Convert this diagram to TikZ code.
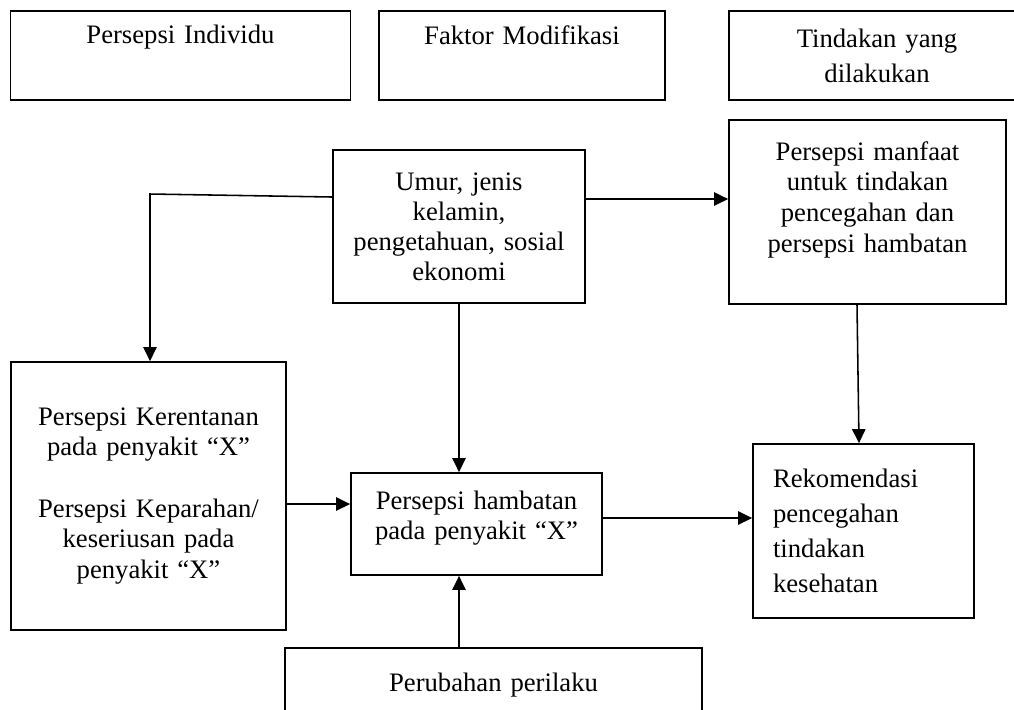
\documentclass[tikz,border=0pt]{standalone}
\usepackage{fontspec}
\setmainfont{Liberation Serif}
\usetikzlibrary{arrows.meta}
\def\px{0.45pt}

\begin{document}
\begin{tikzpicture}[x=\px, y=-\px,
		kotak/.style={draw, line width=0.8pt, align=center, inner sep=0pt, font=\fontsize{12}{13.8}\selectfont},
		panah/.style={line width=0.7pt, -{Triangle[length=6.3pt, width=6pt]}}]
			%%%%% START %%%%%
			
			\clip (0, 0) rectangle (1014, 709);
			
			% judul kolom
			\node[kotak, text width=340*\px, minimum height=89*\px] (individu) at (180.5, 55.5) {Persepsi Individu\\[5pt]~};
			\node[kotak, text width=286*\px, minimum height=89*\px] (faktor) at (522, 55.5) {Faktor Modifikasi\\[5pt]~};
			\node[kotak, text width=296*\px, minimum height=89*\px, font=\fontsize{12}{15.75}\selectfont] (tindakan) at (877, 55.5) {Tindakan yang\\dilakukan};
			
			\node[kotak, text width=252*\px, minimum height=153*\px, font=\fontsize{12}{13.5}\selectfont] (umur) at (459, 226.5) {Umur, jenis\\kelamin,\\pengetahuan, sosial\\ekonomi};
			\node[kotak, text width=277*\px, minimum height=184*\px] (manfaat) at (867.5, 212) {Persepsi manfaat\\untuk tindakan\\pencegahan dan\\persepsi hambatan\\~};
			
			\node[kotak, text width=275*\px, minimum height=268*\px] (kerentanan) at (148.5, 496) {Persepsi Kerentanan\\pada penyakit “X”\\~\\Persepsi Keparahan/\\keseriusan pada\\penyakit “X”};
			\node[kotak, text width=251*\px, minimum height=102*\px] (hambatan) at (476.5, 524) {Persepsi hambatan\\pada penyakit “X”\\[-6pt]~};
			\node[kotak, align=left, inner xsep=20*\px, text width=181*\px, minimum height=174*\px, font=\fontsize{12}{15.75}\selectfont] (rekomendasi) at (863.5, 531) {Rekomendasi\\pencegahan\\tindakan\\kesehatan};
			
			\node[kotak, text width=417*\px, minimum height=74*\px] (perubahan) at (493.5, 685) {Perubahan perilaku};
			
			% panah
			\coordinate (belok) at (150, 194);
			\draw[panah] ([yshift=29.5*\px]umur.west) -- (belok) -- (belok |- kerentanan.north);
			\draw[panah] ([yshift=27.5*\px]umur.east) -- ([yshift=13*\px]manfaat.west);
			\draw[panah] (umur.south) -- (umur.south |- hambatan.north);
			\draw[panah] ([yshift=-8*\px]kerentanan.east) -- ([yshift=20*\px]hambatan.west);
			\draw[panah] (perubahan.north -| umur.south) -- (umur.south |- hambatan.south);
			\draw[panah] ([yshift=6*\px]hambatan.east) -- ([yshift=13*\px]rekomendasi.west);
			\draw[panah] ([xshift=-10.5*\px]manfaat.south) -- ([xshift=-4.5*\px]rekomendasi.north);
			
			%%%%% END %%%%%
\end{tikzpicture}
\end{document}
